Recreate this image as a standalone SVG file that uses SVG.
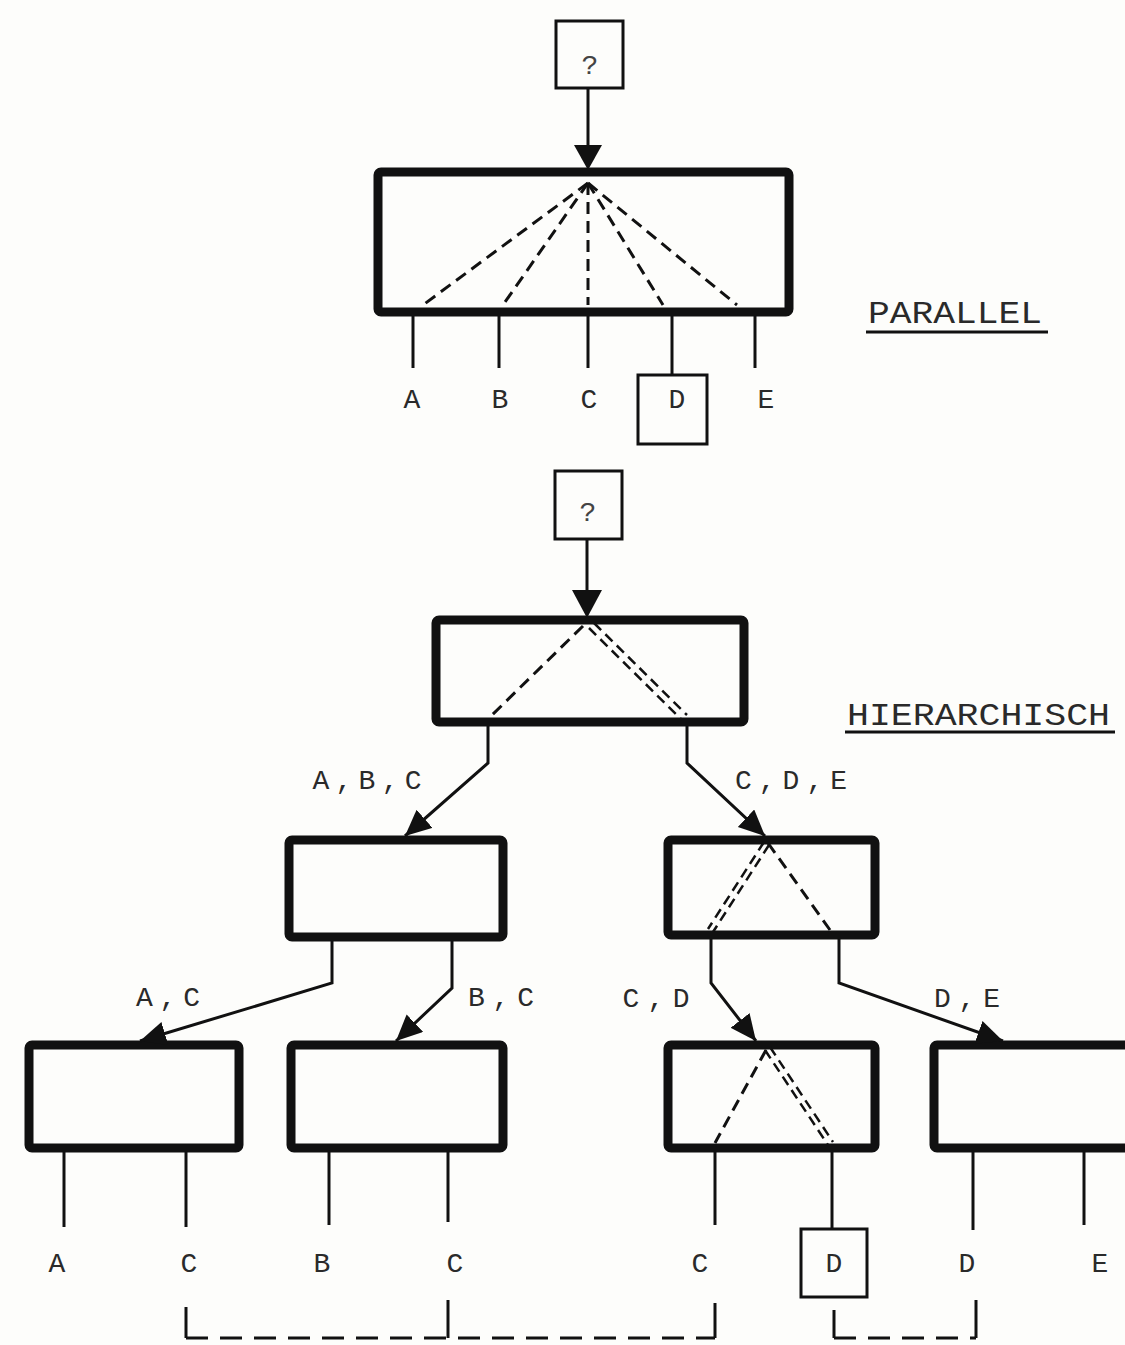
<svg xmlns="http://www.w3.org/2000/svg" width="1125" height="1345" viewBox="0 0 1125 1345">
<style>
.bg{fill:#fdfdfb}
.box{fill:none;stroke:#111;stroke-width:9;stroke-linejoin:round}
.sbox{fill:none;stroke:#111;stroke-width:3}
.ln{fill:none;stroke:#111;stroke-width:3}
.dash{fill:none;stroke:#111;stroke-width:3;stroke-dasharray:12 7}
.dd{fill:none;stroke:#111;stroke-width:2.5;stroke-dasharray:10 6}
.bd{fill:none;stroke:#111;stroke-width:3;stroke-dasharray:22 12}
.t{font-family:"Liberation Mono","Courier New",monospace;fill:#2a2a2a;font-size:28px;text-anchor:middle}
.h{font-family:"Liberation Mono","Courier New",monospace;fill:#2a2a2a;font-size:32px}
.q{font-family:"Liberation Mono","Courier New",monospace;fill:#444;font-size:28px;text-anchor:middle}
</style>
<defs>
<marker id="ah" markerUnits="userSpaceOnUse" markerWidth="28" markerHeight="26" refX="26" refY="12" orient="auto">
<path d="M0,0 L26,12 L0,24 Z" fill="#111"/>
</marker>
</defs>
<rect class="bg" x="0" y="0" width="1125" height="1345"/>

<g id="parallel-query">
<rect class="sbox" x="556" y="21" width="67" height="67"/>
<text class="q" x="590" y="74">?</text>
</g>
<g id="parallel-box">
<rect class="box" x="378" y="172" width="411" height="140" rx="3"/>
</g>
<g id="parallel-D">
<rect class="sbox" x="638" y="375" width="69" height="69"/>
</g>
<g id="parallel-labels">
<text class="t" x="412" y="408">A</text>
<text class="t" x="500" y="408">B</text>
<text class="t" x="589" y="408">C</text>
<text class="t" x="677" y="408">D</text>
<text class="t" x="766" y="408">E</text>
<text class="h" x="868" y="323" textLength="174" lengthAdjust="spacingAndGlyphs">PARALLEL</text>
<line class="ln" x1="866" y1="332" x2="1048" y2="332" stroke-width="2"/>
</g>

<g id="h-query">
<rect class="sbox" x="555" y="471" width="67" height="68"/>
<text class="q" x="588" y="521">?</text>
</g>
<g id="h-root"><rect class="box" x="436" y="620" width="308" height="102" rx="3"/></g>
<g id="h-mid-left"><rect class="box" x="289" y="840" width="214" height="97" rx="3"/></g>
<g id="h-mid-right"><rect class="box" x="668" y="840" width="207" height="95" rx="3"/></g>
<g id="h-bot-1"><rect class="box" x="29" y="1045" width="210" height="103" rx="3"/></g>
<g id="h-bot-2"><rect class="box" x="291" y="1045" width="212" height="103" rx="3"/></g>
<g id="h-bot-3"><rect class="box" x="668" y="1045" width="207" height="103" rx="3"/></g>
<g id="h-bot-4"><rect class="box" x="934" y="1045" width="220" height="103" rx="3"/></g>
<g id="h-D"><rect class="sbox" x="801" y="1229" width="66" height="68"/></g>
<g id="h-labels">
<text class="h" x="847" y="725" textLength="263" lengthAdjust="spacingAndGlyphs">HIERARCHISCH</text>
<line class="ln" x1="845" y1="732" x2="1115" y2="732" stroke-width="2"/>
<text class="t" x="367" y="789" textLength="109" lengthAdjust="spacing">A,B,C</text>
<text class="t" x="791" y="789" textLength="112" lengthAdjust="spacing">C,D,E</text>
<text class="t" x="168" y="1006" textLength="64" lengthAdjust="spacing">A,C</text>
<text class="t" x="501" y="1006" textLength="66" lengthAdjust="spacing">B,C</text>
<text class="t" x="656" y="1007" textLength="67" lengthAdjust="spacing">C,D</text>
<text class="t" x="967" y="1007" textLength="66" lengthAdjust="spacing">D,E</text>
<text class="t" x="57" y="1272">A</text>
<text class="t" x="189" y="1272">C</text>
<text class="t" x="322" y="1272">B</text>
<text class="t" x="455" y="1272">C</text>
<text class="t" x="700" y="1272">C</text>
<text class="t" x="834" y="1272">D</text>
<text class="t" x="967" y="1272">D</text>
<text class="t" x="1100" y="1272">E</text>
</g>

<g id="connectors">
<line class="ln" x1="588" y1="88" x2="588" y2="150"/>
<path d="M574,145 L602,145 L588,170 Z" fill="#111"/>
<path class="dash" d="M588,183 L423,305"/>
<path class="dash" d="M588,183 L503,305"/>
<path class="dash" d="M588,183 L588,305"/>
<path class="dash" d="M588,183 L663,305"/>
<path class="dash" d="M588,183 L737,305"/>
<line class="ln" x1="413" y1="316" x2="413" y2="368"/>
<line class="ln" x1="499" y1="316" x2="499" y2="368"/>
<line class="ln" x1="588" y1="316" x2="588" y2="368"/>
<line class="ln" x1="672" y1="316" x2="672" y2="375"/>
<line class="ln" x1="755" y1="316" x2="755" y2="368"/>

<line class="ln" x1="587" y1="539" x2="587" y2="595"/>
<path d="M572,590 L602,590 L587,618 Z" fill="#111"/>
<path class="dash" d="M583,626 L490,717"/>
<path class="dd" d="M594,623 L687,715"/>
<path class="dd" d="M589,628 L682,720"/>
<path class="ln" d="M488,726 V763 L405,836" marker-end="url(#ah)"/>
<path class="ln" d="M687,726 V763 L765,836" marker-end="url(#ah)"/>

<path class="dd" d="M769,845 L713,932"/>
<path class="dd" d="M764,842 L708,929"/>
<path class="dash" d="M768,843 L830,930"/>
<path class="ln" d="M332,941 V983 L140,1041" marker-end="url(#ah)"/>
<path class="ln" d="M452,941 V988 L396,1041" marker-end="url(#ah)"/>
<path class="ln" d="M711,939 V983 L756,1041" marker-end="url(#ah)"/>
<path class="ln" d="M839,939 V983 L1003,1041" marker-end="url(#ah)"/>

<path class="dash" d="M766,1050 L715,1143"/>
<path class="dd" d="M770,1047 L833,1142"/>
<path class="dd" d="M765,1050 L828,1145"/>

<line class="ln" x1="64" y1="1152" x2="64" y2="1227"/>
<line class="ln" x1="186" y1="1152" x2="186" y2="1227"/>
<line class="ln" x1="329" y1="1152" x2="329" y2="1225"/>
<line class="ln" x1="448" y1="1152" x2="448" y2="1222"/>
<line class="ln" x1="715" y1="1152" x2="715" y2="1225"/>
<line class="ln" x1="832" y1="1152" x2="832" y2="1229"/>
<line class="ln" x1="973" y1="1152" x2="973" y2="1230"/>
<line class="ln" x1="1084" y1="1152" x2="1084" y2="1225"/>

<path class="ln" d="M186,1307 V1338"/>
<path class="ln" d="M448,1300 V1338"/>
<path class="ln" d="M715,1303 V1338"/>
<path class="bd" d="M186,1338 H715"/>
<path class="ln" d="M834,1310 V1338"/>
<path class="ln" d="M976,1300 V1338"/>
<path class="bd" d="M834,1338 H976"/>
</g>
</svg>
